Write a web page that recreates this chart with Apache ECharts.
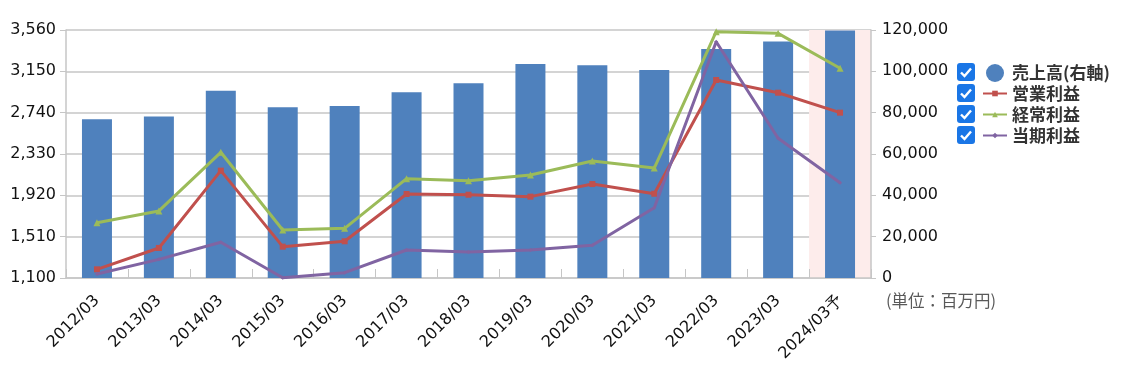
<!DOCTYPE html>
<html><head><meta charset="utf-8">
<script src="https://cdn.jsdelivr.net/npm/echarts@6/dist/echarts.min.js"></script>
<style>html,body{margin:0;padding:0;background:#fff}#c{width:1133px;height:371px}</style>
</head><body><div id="c"></div>
<script>
const categories = ['2012/03','2013/03','2014/03','2015/03','2016/03','2017/03','2018/03','2019/03','2020/03','2021/03','2022/03','2023/03','2024/03予'];
const sales = [76800, 78200, 90600, 82600, 83200, 89900, 94200, 103600, 102900, 100700, 110800, 114400, 119700];
const opProfit = [1186, 1398, 2165, 1411, 1464, 1933, 1926, 1907, 2032, 1936, 3064, 2938, 2740];
const ordProfit = [1649, 1765, 2347, 1576, 1593, 2085, 2065, 2122, 2261, 2191, 3543, 3527, 3180];
const netProfit = [1140, 1285, 1454, 1102, 1153, 1378, 1358, 1378, 1424, 1797, 3444, 2486, 2045];
const seriesNames = ['売上高(右軸)', '営業利益', '経常利益', '当期利益'];
const leftTicks = {min: 1100, max: 3560, interval: 410};
const rightTicks = {min: 0, max: 120000, interval: 20000};

const FONT = 'DejaVu Sans';
const gridColor = '#c6c6c6';
const bandColors = categories.map((c, i) => i === categories.length - 1 ? '#fdeceb' : 'rgba(0,0,0,0)');

const chart = echarts.init(document.getElementById('c'), null, {renderer: 'canvas'});

function checkbox(y) {
  return {
    type: 'group', left: 957, top: y - 9,
    children: [
      {type: 'rect', shape: {x: 0, y: 0, width: 18, height: 18, r: 3}, style: {fill: '#1a76e6'}},
      {type: 'polyline', shape: {points: [[4, 9.5], [7.5, 13], [14, 5.5]]}, style: {stroke: '#fff', lineWidth: 2.4, fill: null}}
    ]
  };
}
const rowY = [72, 93, 114, 135];
const legendText = {fontFamily: 'Noto Sans CJK JP', fontWeight: 'bold', fontSize: 17, color: '#333'};

chart.setOption({
  animation: false,
  textStyle: {fontFamily: FONT},
  grid: {left: 66, right: 262, top: 30, bottom: 93, containLabel: false},
  legend: [
    {
      orient: 'vertical', left: 981, top: 59, itemWidth: 24, itemHeight: 18,
      textStyle: legendText,
      data: [{name: seriesNames[0], icon: 'circle'}]
    },
    {
      orient: 'vertical', left: 977, top: 78, itemWidth: 24, itemHeight: 7, itemGap: 0,
      textStyle: Object.assign({}, legendText, {lineHeight: 21}),
      data: [seriesNames[1], seriesNames[2], seriesNames[3]]
    }
  ],
  graphic: rowY.map(checkbox).concat([
    {type: 'text', left: 886, top: 292, style: {text: '(単位：百万円)', fontFamily: 'Noto Sans CJK JP', fontSize: 16.5, fill: '#595959'}}
  ]),
  xAxis: {
    type: 'category', data: categories, boundaryGap: true,
    axisLine: {lineStyle: {color: gridColor, width: 1.5}},
    axisTick: {show: true, inside: true, length: 9, lineStyle: {color: gridColor}},
    axisLabel: {rotate: 45, fontSize: 16, color: '#111', fontFamily: FONT, margin: 20, interval: 0},
    splitArea: {show: true, areaStyle: {color: bandColors}}
  },
  yAxis: [
    {
      type: 'value', position: 'left', min: leftTicks.min, max: leftTicks.max, interval: leftTicks.interval,
      axisLine: {show: true, lineStyle: {color: gridColor, width: 1.5}},
      axisTick: {show: true, length: 6, lineStyle: {color: gridColor}},
      axisLabel: {fontSize: 16, color: '#111', margin: 10, formatter: v => v.toLocaleString('en-US')},
      splitLine: {lineStyle: {color: gridColor, width: 1.5}}
    },
    {
      type: 'value', position: 'right', min: rightTicks.min, max: rightTicks.max, interval: rightTicks.interval,
      axisLine: {show: true, lineStyle: {color: gridColor, width: 1.5}},
      axisTick: {show: true, length: 5, lineStyle: {color: gridColor}},
      axisLabel: {fontSize: 16, color: '#111', margin: 11, formatter: v => v.toLocaleString('en-US')},
      splitLine: {show: false}
    }
  ],
  series: [
    {name: seriesNames[0], type: 'bar', yAxisIndex: 1, data: sales, barWidth: 30, itemStyle: {color: '#4f81bd'}, z: 2},
    {name: seriesNames[1], type: 'line', yAxisIndex: 0, data: opProfit, symbol: 'rect', symbolSize: 6, showAllSymbol: true,
     lineStyle: {color: '#c0504d', width: 3}, itemStyle: {color: '#c0504d'}, z: 5},
    {name: seriesNames[2], type: 'line', yAxisIndex: 0, data: ordProfit, symbol: 'triangle', symbolSize: 7, showAllSymbol: true,
     lineStyle: {color: '#9bbb59', width: 3}, itemStyle: {color: '#9bbb59'}, z: 4},
    {name: seriesNames[3], type: 'line', yAxisIndex: 0, data: netProfit, symbol: 'diamond', symbolSize: 4, showAllSymbol: true,
     lineStyle: {color: '#8064a2', width: 3}, itemStyle: {color: '#8064a2'}, z: 6}
  ]
});
</script>
</body></html>
